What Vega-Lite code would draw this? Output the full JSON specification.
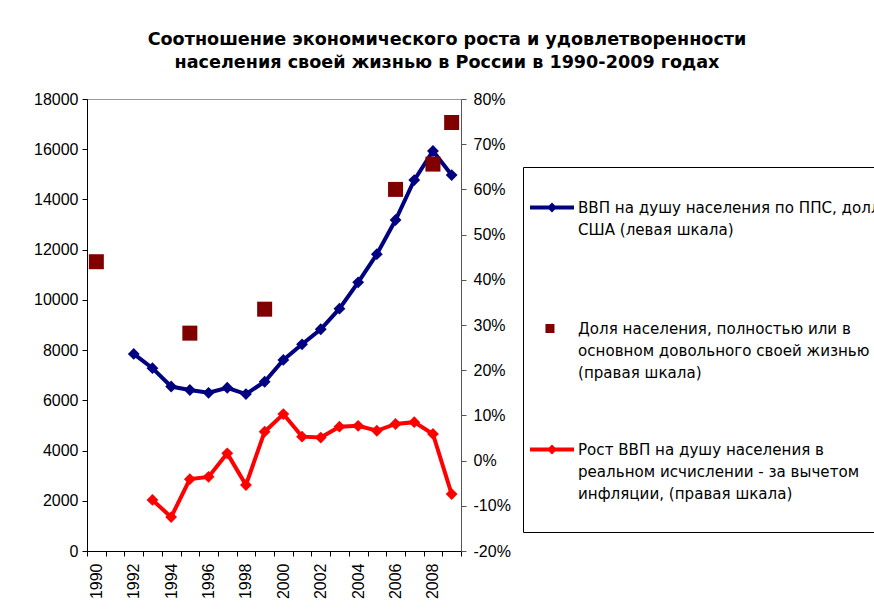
{
  "$schema": "https://vega.github.io/schema/vega-lite/v6.json",
  "width": 374,
  "height": 452,
  "autosize": {"type": "none"},
  "padding": {"left": 87, "top": 99, "right": 413, "bottom": 61},
  "background": "white",
  "config": {
    "font": "Liberation Sans",
    "view": {"stroke": "#999999", "strokeWidth": 1},
    "axis": {"grid": false, "labelFont": "Liberation Sans", "labelFontSize": 16, "labelColor": "black", "domainColor": "black", "tickColor": "black", "tickSize": 5, "title": null}
  },
  "title": {
    "text": ["Соотношение экономического роста и удовлетворенности", "населения своей жизнью в России в 1990-2009 годах"],
    "font": "DejaVu Sans", "fontSize": 17.6, "fontWeight": "bold", "lineHeight": 23.5,
    "anchor": "middle", "frame": "group", "dx": 173, "offset": 19, "color": "black"
  },
  "data": {"values": [
    {"year": 1990, "gdp": null, "growth": null, "satis": 0.44},
    {"year": 1991, "gdp": null, "growth": null, "satis": null},
    {"year": 1992, "gdp": 7850, "growth": null, "satis": null},
    {"year": 1993, "gdp": 7280, "growth": -0.087, "satis": null},
    {"year": 1994, "gdp": 6550, "growth": -0.125, "satis": null},
    {"year": 1995, "gdp": 6410, "growth": -0.041, "satis": 0.282},
    {"year": 1996, "gdp": 6300, "growth": -0.036, "satis": null},
    {"year": 1997, "gdp": 6500, "growth": 0.016, "satis": null},
    {"year": 1998, "gdp": 6250, "growth": -0.054, "satis": null},
    {"year": 1999, "gdp": 6740, "growth": 0.064, "satis": 0.335},
    {"year": 2000, "gdp": 7610, "growth": 0.103, "satis": null},
    {"year": 2001, "gdp": 8230, "growth": 0.053, "satis": null},
    {"year": 2002, "gdp": 8830, "growth": 0.051, "satis": null},
    {"year": 2003, "gdp": 9650, "growth": 0.075, "satis": null},
    {"year": 2004, "gdp": 10700, "growth": 0.077, "satis": null},
    {"year": 2005, "gdp": 11820, "growth": 0.066, "satis": null},
    {"year": 2006, "gdp": 13180, "growth": 0.081, "satis": 0.60},
    {"year": 2007, "gdp": 14770, "growth": 0.085, "satis": null},
    {"year": 2008, "gdp": 15930, "growth": 0.059, "satis": 0.656},
    {"year": 2009, "gdp": 14970, "growth": -0.074, "satis": 0.748}
  ]},
  "encoding": {
    "x": {
      "field": "year", "type": "ordinal",
      "scale": {"type": "band", "paddingInner": 0, "paddingOuter": 0, "domain": [1990,1991,1992,1993,1994,1995,1996,1997,1998,1999,2000,2001,2002,2003,2004,2005,2006,2007,2008,2009]},
      "axis": {
        "tickBand": "extent", "labelAngle": 270, "labelAlign": "right", "labelBaseline": "middle", "labelPadding": 7,
        "labelExpr": "datum.value % 2 == 0 ? '' + datum.value : ''",
        "encode": {"ticks": {"update": {"y": {"value": -5}}}}
      }
    }
  },
  "layer": [
    {
      "mark": {"type": "line", "strokeWidth": 4, "point": {"filled": true, "shape": "diamond", "size": 140}},
      "encoding": {
        "y": {"field": "gdp", "type": "quantitative", "scale": {"domain": [0, 18000]},
          "axis": {"orient": "left", "values": [0,2000,4000,6000,8000,10000,12000,14000,16000,18000], "format": "d", "labelPadding": 4,
            "encode": {"ticks": {"update": {"x": {"value": 5}}}}}},
        "color": {"datum": "ВВП на душу населения по ППС, доллара|США (левая шкала)|", "type": "nominal",
          "scale": {"domain": ["ВВП на душу населения по ППС, доллара|США (левая шкала)|", "Доля населения, полностью или в|основном довольного своей жизнью|(правая шкала)", "Рост ВВП на душу населения в|реальном исчислении - за вычетом|инфляции, (правая шкала)"], "range": ["#000080", "#800000", "#ff0000"]},
          "legend": {
            "orient": "none", "legendX": 436, "legendY": 68, "title": null,
            "strokeColor": "black", "fillColor": "white", "padding": 30,
            "symbolSize": 441, "labelOffset": 4, "rowPadding": 58,
            "labelFont": "DejaVu Sans", "labelFontSize": 15.1, "labelColor": "black", "labelLimit": 1000,
            "labelExpr": "split(datum.value, '|')",
            "encode": {
              "labels": {"update": {"lineHeight": {"value": 22}}},
              "symbols": {"update": {
                "shape": {"signal": "indexof(datum.value, 'Доля') >= 0 ? 'M-1.72,-0.43H-0.86V0.43H-1.72Z' : 'M-3.19,-0.19H1V0.19H-3.19Z M-1.57,0L-1.095,-0.48L-0.62,0L-1.095,0.48Z'"},
                "fill": {"signal": "indexof(datum.value, 'Доля') >= 0 ? '#800000' : (indexof(datum.value, 'Рост') >= 0 ? '#ff0000' : '#000080')"},
                "strokeWidth": {"value": 0},
                "opacity": {"value": 1},
                "fillOpacity": {"value": 1}
              }}
            }
          }
        }
      }
    },
    {
      "layer": [
        {
          "mark": {"type": "point", "shape": "square", "filled": true, "size": 225, "opacity": 1},
          "encoding": {
            "y": {"field": "satis", "type": "quantitative", "scale": {"domain": [-0.2, 0.8]},
              "axis": {"orient": "right", "values": [-0.2,-0.1,0,0.1,0.2,0.3,0.4,0.5,0.6,0.7,0.8], "labelExpr": "round(datum.value*100) + '%'", "labelPadding": 7,
                "domainColor": "#555555", "tickColor": "#555555",
                "encode": {"ticks": {"update": {"x": {"value": -5}}}}}},
            "color": {"datum": "Доля населения, полностью или в|основном довольного своей жизнью|(правая шкала)", "type": "nominal"}
          }
        },
        {
          "mark": {"type": "line", "strokeWidth": 4, "point": {"filled": true, "shape": "diamond", "size": 140}},
          "encoding": {
            "y": {"field": "growth", "type": "quantitative"},
            "color": {"datum": "Рост ВВП на душу населения в|реальном исчислении - за вычетом|инфляции, (правая шкала)", "type": "nominal"}
          }
        }
      ]
    }
  ],
  "resolve": {"scale": {"y": "independent"}, "axis": {"y": "independent"}}
}
